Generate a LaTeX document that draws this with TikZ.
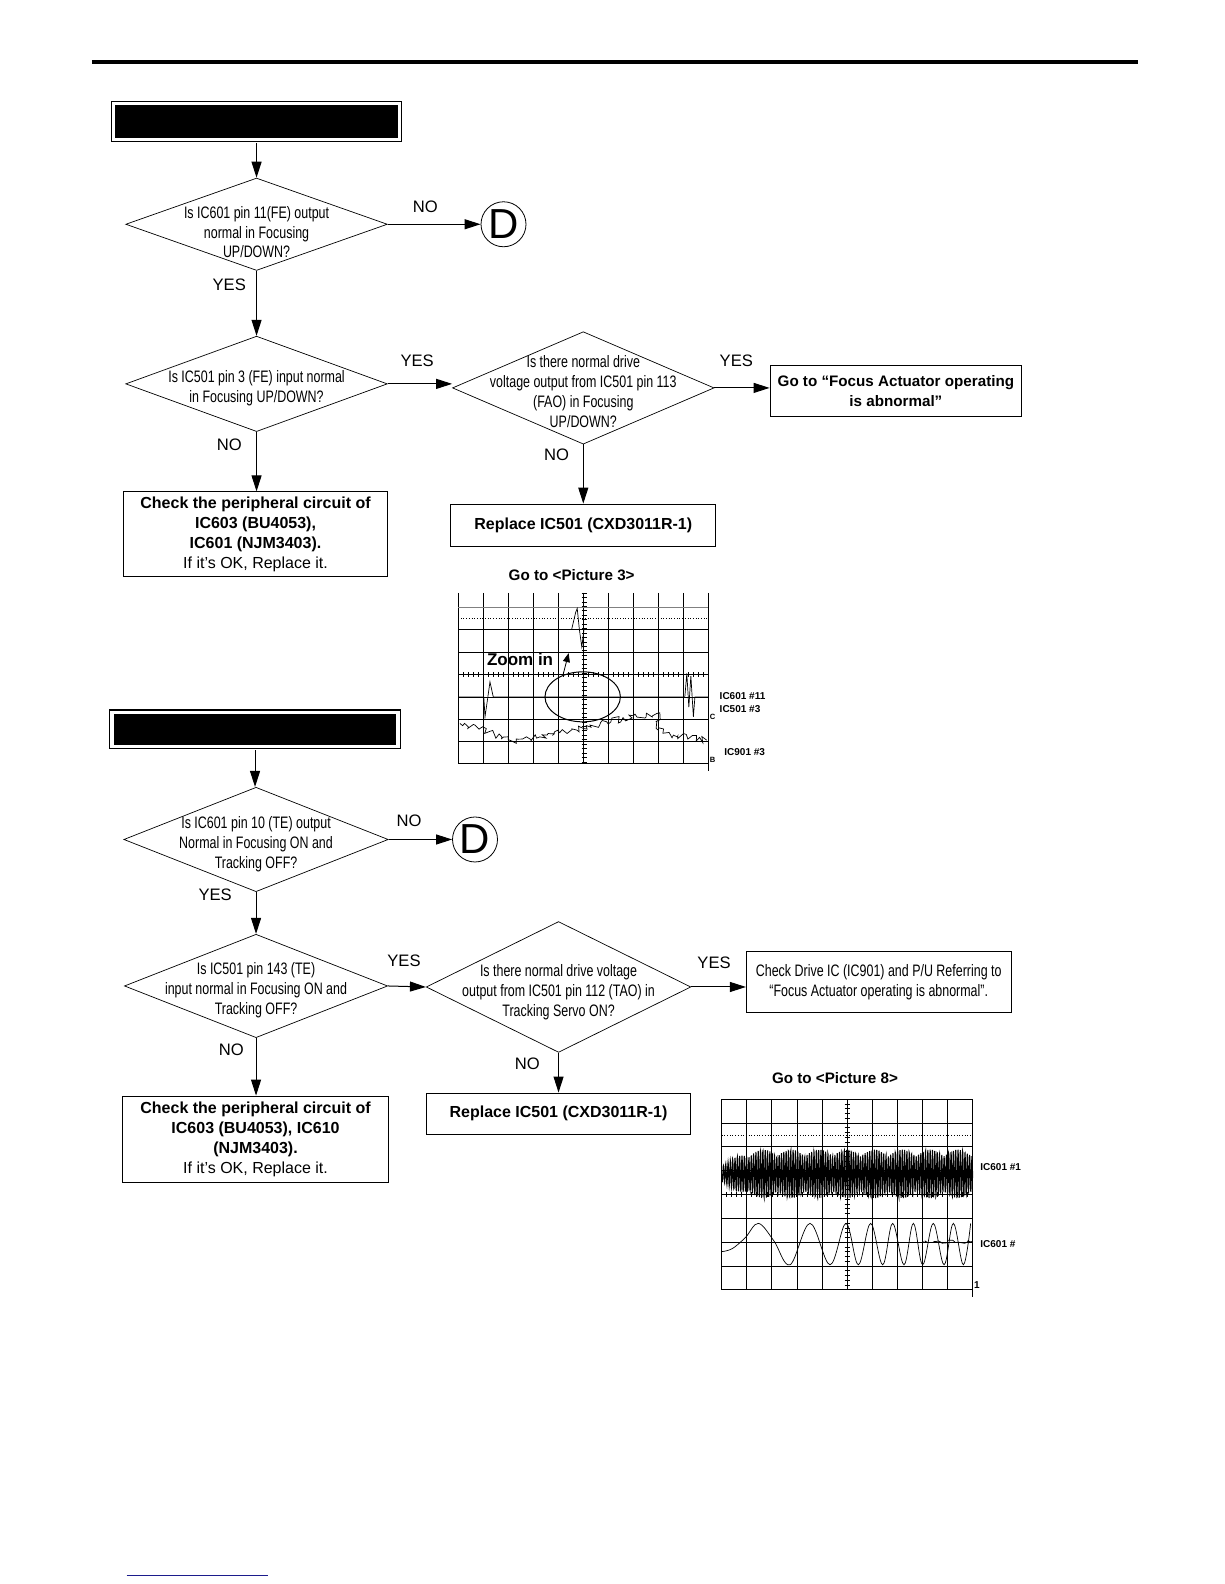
\documentclass[tikz,border=0pt]{standalone}
\usepackage{fontspec}
\setmainfont{Liberation Sans}
\newfontfamily\narrowfont[FakeStretch=0.75]{Liberation Sans}
\usetikzlibrary{arrows.meta,shapes.geometric,decorations.pathmorphing}
\definecolor{cLink}{HTML}{1C1C8C}
\tikzset{
  header/.style={draw, fill=black, double=white, double distance=1.6pt, line width=0.6pt,
    minimum width=143pt, inner sep=0pt},
  question/.style={diamond, draw, line width=0.35pt, inner sep=0pt},
  qtext/.style={align=center, inner sep=0pt, font=\narrowfont\fontsize{8.3}{9.9}\selectfont},
  action/.style={draw, line width=0.5pt, align=center, inner sep=0pt, minimum width=132.3pt,
    font=\bfseries\fontsize{8}{10.1}\selectfont},
  answer/.style={inner sep=0pt, font=\fontsize{8.3}{10}\selectfont},
  offpage/.style={circle, draw, line width=0.4pt, inner sep=0pt, minimum size=22.5pt,
    font=\fontsize{21}{21}\selectfont},
  flow/.style={-{Triangle[length=8pt,width=5pt]}, line width=0.5pt},
  scopeline/.style={line width=0.45pt},
  trace/.style={line width=0.35pt},
  tag/.style={anchor=west, inner sep=0pt, font=\bfseries\fontsize{5}{5.5}\selectfont},
  caption/.style={inner sep=0pt, font=\bfseries\fontsize{7.6}{9}\selectfont},
}

\begin{document}
\begin{tikzpicture}[x=0.505pt, y=-0.5051pt]
  \useasboundingbox (0,0) rectangle (1212,1568);
  % page rule
  \draw[line width=2pt] (91,61.5) -- (1127,61.5);

  % focus error check
  \node[header, minimum height=18pt] (hdr1) at (254,120.3) {};
  \node[question, minimum width=130.8pt, minimum height=46.2pt] (fe601) at (254,222) {};
  \node[qtext] (fe601t) at ([yshift=-4pt]fe601) {Is IC601 pin 11(FE) output\\normal in Focusing\\UP/DOWN?};
  \node[offpage] (goD1) at (498.5,222) {D};
  \node[question, minimum width=130.8pt, minimum height=47.7pt] (fe501) at (254,380) {};
  \node[qtext] (fe501t) at ([yshift=-2pt]fe501) {Is IC501 pin 3 (FE) input normal\\in Focusing UP/DOWN?};
  \node[question, minimum width=130.8pt, minimum height=56.2pt] (fao) at (577.5,384) {};
  \node[qtext] (faot) at ([yshift=-1.8pt]fao) {Is there normal drive\\voltage output from IC501 pin 113\\(FAO) in Focusing\\UP/DOWN?};
  \node[action, minimum width=125.8pt, minimum height=25.8pt, font=\bfseries\fontsize{7.6}{10.1}\selectfont]
    (gofa) at (887,387) {Go to “Focus Actuator operating\\is abnormal”};
  \node[action, minimum height=42.5pt] (chkA) at (253,529)
    {Check the peripheral circuit of\\IC603 (BU4053),\\IC601 (NJM3403).\\{\mdseries If it’s OK, Replace it.}};
  \node[action, minimum height=21.2pt] (rep1) at (577.5,520) {Replace IC501 (CXD3011R-1)};

  \node[answer] (no1) at (421,205) {NO};
  \node[answer] (yes1) at (227,282) {YES};
  \node[answer] (yes2) at (413,357) {YES};
  \node[answer] (no2) at (227,440) {NO};
  \node[answer] (yes3) at (729,357) {YES};
  \node[answer] (no3) at (551,450) {NO};

  \draw[flow, shorten <=1.4pt] (hdr1.south) -- (fe601.north);
  \draw[flow] (fe601.east) -- (goD1);
  \draw[flow] (fe601.south) -- (fe501.north);
  \draw[flow] (fe501.east) -- (fe501.east -| fao.west);
  \draw[flow] (fao.east) -- (fao.east -| gofa.west);
  \draw[flow] (fe501.south) -- (fe501.south |- chkA.north);
  \draw[flow] (fao.south) -- (rep1.north);

  % scope picture 3
  \node[caption] (cap3) at (566,569.3) {Go to <Picture 3>};
  \foreach \k in {0,...,10}
    \draw[scopeline] ({453.5+24.75*\k},587) -- ({453.5+24.75*\k},756);
  \draw[scopeline] (701,756) -- (701,763);
  \draw[scopeline, gray] (453.5,601) -- (701,601);
  \foreach \y in {623,645.5,668,690,712,734,756}
    \draw[scopeline] (453.5,\y) -- (701,\y);
  \draw[trace, densely dotted] (453.5,612) -- (701,612);
  \foreach \t in {0,...,38}
    \draw[trace] (575.8,{587+4.4*\t}) -- (580.7,{587+4.4*\t});
  \foreach \t in {0,...,50}
    \draw[trace] ({453.5+4.95*\t},665.5) -- ({453.5+4.95*\t},670.5);
  \draw[trace] (453.5,623) -- (566,623) -- (570,606) -- (571.5,602.3) -- (573.6,623)
    -- (576,640.3) -- (578.2,623) -- (701,623);
  \draw[trace] (453.5,690) -- (479,690) -- (480.2,709.6) -- (483,690) -- (485.1,675)
    -- (488.4,690) -- (678,690) -- (680,666.7) -- (682,700) -- (684,669) -- (686.5,709.6)
    -- (688,690) -- (701,690);
  \draw[trace, decorate, decoration={random steps, segment length=1.3pt, amplitude=1.6pt}]
    (455.4,716.2) -- (475.2,721.1) -- (508.2,734.3) -- (534.6,729.4) -- (577.6,721.1)
    -- (600.7,714.5) -- (650.2,706.3) -- (651.8,722.8) -- (666.7,727.7) -- (699.7,732.7);
  \node[draw, ellipse, line width=0.5pt, minimum width=37.7pt, minimum height=25pt,
    inner sep=0pt] (zoomring) at (576.9,689.8) {};
  \coordinate (zoomtip) at (563,646.5);
  \draw[-{Triangle[length=4.5pt,width=3.5pt]}, line width=0.4pt] (zoomring.132) -- (zoomtip);
  \node[inner sep=0pt, font=\bfseries\fontsize{8.5}{9}\selectfont] (zoomlbl) at (514.9,652.8) {Zoom in};
  \node[tag] (ic601a) at (712.2,689) {IC601 \#11};
  \node[tag] (ic501a) at (712.2,701.5) {IC501 \#3};
  \node[tag] (ic901a) at (716.8,744.5) {IC901 \#3};
  \node[tag, font=\bfseries\fontsize{3.8}{4}\selectfont] (chC) at (702.5,709.6) {C};
  \node[tag, font=\bfseries\fontsize{3.8}{4}\selectfont] (chB) at (702.5,752.5) {B};

  % tracking error check
  \node[header, minimum height=17.2pt] (hdr2) at (252.5,722.1) {};
  \node[question, minimum width=132.2pt, minimum height=52.2pt] (te601) at (253.5,831) {};
  \node[qtext] (te601t) at ([yshift=-2.5pt]te601) {Is IC601 pin 10 (TE) output\\Normal in Focusing ON and\\Tracking OFF?};
  \node[offpage] (goD2) at (470.3,831) {D};
  \node[question, minimum width=131.6pt, minimum height=51.7pt] (te501) at (253.5,976) {};
  \node[qtext] (te501t) at ([yshift=-2pt]te501) {Is IC501 pin 143 (TE)\\input normal in Focusing ON and\\Tracking OFF?};
  \node[question, minimum width=132.3pt, minimum height=65.4pt] (tao) at (553,977) {};
  \node[qtext] (taot) at ([yshift=-2.5pt]tao) {Is there normal drive voltage\\output from IC501 pin 112 (TAO) in\\Tracking Servo ON?};
  \node[action, qtext, minimum width=132.3pt, minimum height=30.3pt] (chkE) at (870,972)
    {Check Drive IC (IC901) and P/U Referring to\\“Focus Actuator operating is abnormal”.};
  \node[action, minimum width=132.6pt, minimum height=43.4pt] (chkD) at (253,1128)
    {Check the peripheral circuit of\\IC603 (BU4053), IC610\\(NJM3403).\\{\mdseries If it’s OK, Replace it.}};
  \node[action, minimum height=20.7pt] (rep2) at (553,1102.5) {Replace IC501 (CXD3011R-1)};

  \node[answer] (no4) at (405,812) {NO};
  \node[answer] (yes4) at (213,886) {YES};
  \node[answer] (yes5) at (400,951) {YES};
  \node[answer] (no5) at (229,1039) {NO};
  \node[answer] (yes6) at (707,953) {YES};
  \node[answer] (no6) at (522,1053) {NO};

  \draw[flow, shorten <=1.4pt] (hdr2.south) -- (hdr2.south |- te601.north);
  \draw[flow] (te601.east) -- (goD2);
  \draw[flow] (te601.south) -- (te501.north);
  \draw[flow] (te501.east) -- (tao.west);
  \draw[flow] (tao.east) -- (tao.east -| chkE.west);
  \draw[flow] (te501.south) -- (te501.south |- chkD.north);
  \draw[flow] (tao.south) -- (rep2.north);

  % scope picture 8
  \node[caption] (cap8) at (826.7,1067.6) {Go to <Picture 8>};
  \foreach \k in {0,...,10}
    \draw[scopeline] ({714.5+24.85*\k},1088) -- ({714.5+24.85*\k},1276.8);
  \draw[scopeline] (963,1276.8) -- (963,1284);
  \foreach \j in {0,...,8}
    \draw[scopeline] (714.5,{1088+23.6*\j}) -- (963,{1088+23.6*\j});
  \draw[trace, densely dotted] (714.5,1123.4) -- (963,1123.4);
  \foreach \t in {0,...,40}
    \draw[trace] (836.3,{1088+4.72*\t}) -- (841.2,{1088+4.72*\t});
  \foreach \t in {0,...,50}
    \draw[trace] ({714.5+4.97*\t},1180) -- ({714.5+4.97*\t},1185);
  \draw[line width=0.5pt] plot[domain=0:248.5, samples=1100, variable=\u]
    ({714.5+\u}, {1162+(10+14*min(1,\u/30))*(0.72+0.28*abs(sin(360*frac(\u/55))))*sin(360*frac(\u/2.3))});
  \draw[trace] plot[smooth, tension=0.6] coordinates {(714.5,1239) (725,1236) (738,1225)
    (750.8,1211) (766,1228) (782.2,1252) (802,1211) (821.8,1252) (837.6,1211) (849.8,1252)
    (862,1211) (873.9,1252) (883.8,1211) (895,1252) (904.3,1211) (913.5,1252) (924,1211)
    (934.7,1252) (943.9,1211) (953.8,1252) (961,1211)};
  \draw[trace, decorate, decoration={random steps, segment length=1.2pt, amplitude=1pt}]
    (913,1229) -- (963,1229);
  \node[tag] (ic601b) at (970.3,1155) {IC601 \#1};
  \node[tag] (ic601c) at (970.3,1231) {IC601 \#};
  \node[tag] (ch1) at (964,1272.3) {1};

  % footer link
  \draw[cLink, line width=0.6pt] (125.4,1559.4) -- (265.6,1559.4);
\end{tikzpicture}
\end{document}
